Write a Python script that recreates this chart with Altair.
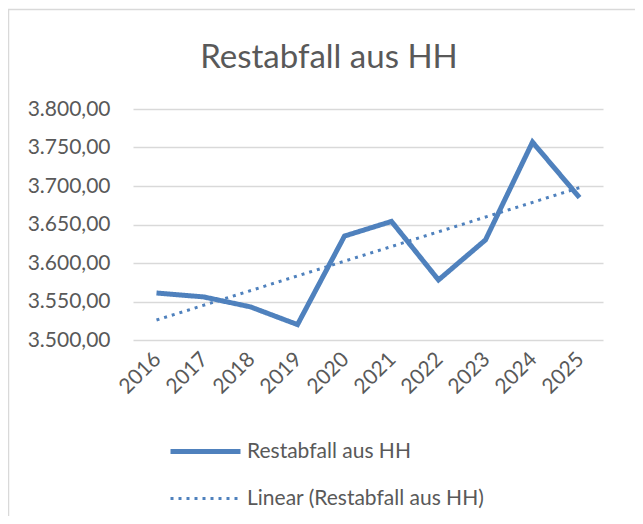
import altair as alt
import pandas as pd

years = [2016, 2017, 2018, 2019, 2020, 2021, 2022, 2023, 2024, 2025]
values = [3561, 3556, 3543, 3520, 3635, 3654, 3578, 3630, 3757, 3685]
y_ticks = [3500, 3550, 3600, 3650, 3700, 3750, 3800]
series_main = "Restabfall aus HH"
series_trend = "Linear (Restabfall aus HH)"
chart_title = "Restabfall aus HH"

BLUE = "#4F81BD"
GRAY = "#595959"
GRID = "#D9D9D9"
FONT = "Lato"

df = pd.DataFrame({"year": years, "value": values})

x_enc = alt.X(
    "year:Q",
    scale=alt.Scale(domain=[2015.5, 2025.5], nice=False, zero=False),
    axis=alt.Axis(values=years, format="d", labelAngle=-45, grid=False, domain=False,
                  ticks=False, labelPadding=8, labelOffset=-7, labelOverlap=False,
                  title=None, labelFont=FONT, labelFontSize=21, labelColor=GRAY),
)
y_enc = alt.Y(
    "value:Q",
    scale=alt.Scale(domain=[3500, 3800], nice=False, zero=False),
    axis=alt.Axis(values=y_ticks,
                  labelExpr="replace(replace(replace(format(datum.value, ',.2f'), ',', '#'), '.', ','), '#', '.')",
                  grid=True, gridColor=GRID, gridWidth=1.5, domain=False, ticks=False,
                  title=None, labelPadding=23, labelFont=FONT, labelFontSize=21,
                  labelColor=GRAY),
)

dom = [series_main, series_trend]
legend = alt.Legend(title=None, orient="none", legendX=35, legendY=305, direction="vertical",
                    symbolType="stroke", symbolSize=4900, labelFont=FONT, labelFontSize=21,
                    labelColor=GRAY, rowPadding=-26, labelOffset=4, labelLimit=500)
color_enc = alt.Color("series:N", scale=alt.Scale(domain=dom, range=[BLUE, BLUE]), legend=legend)
dash_enc = alt.StrokeDash("series:N", scale=alt.Scale(domain=dom, range=[[1, 0], [3, 5]]), legend=legend)
width_enc = alt.StrokeWidth("series:N", scale=alt.Scale(domain=dom, range=[5, 3]), legend=legend)

line = alt.Chart(df).transform_calculate(series=f"'{series_main}'").mark_line().encode(
    x=x_enc, y=y_enc, color=color_enc, strokeDash=dash_enc, strokeWidth=width_enc)

trend = alt.Chart(df).transform_regression("year", "value").transform_calculate(
    series=f"'{series_trend}'").mark_line().encode(
    x=x_enc, y=y_enc, color=color_enc, strokeDash=dash_enc, strokeWidth=width_enc)

frame = alt.Chart(pd.DataFrame({"f": [0]})).mark_rect(
    fillOpacity=0, stroke=GRID, strokeWidth=1.5).encode(
    x=alt.value(-124.5), y=alt.value(-99.5), x2=alt.value(600), y2=alt.value(500))

title = alt.Chart(pd.DataFrame({"t": [chart_title]})).mark_text(
    font=FONT, fontSize=33, color=GRAY, align="center", baseline="alphabetic").encode(
    text="t:N", x=alt.value(196), y=alt.value(-41))

chart = alt.layer(frame, title, trend, line).properties(
    width=470, height=231,
    padding={"left": 125, "top": 101, "right": 32, "bottom": 176},
    autosize=alt.AutoSizeParams(type="none"),
    background="white",
).configure_view(stroke=None)

chart.save("out.html", embed_options={"renderer": "svg", "actions": False})
